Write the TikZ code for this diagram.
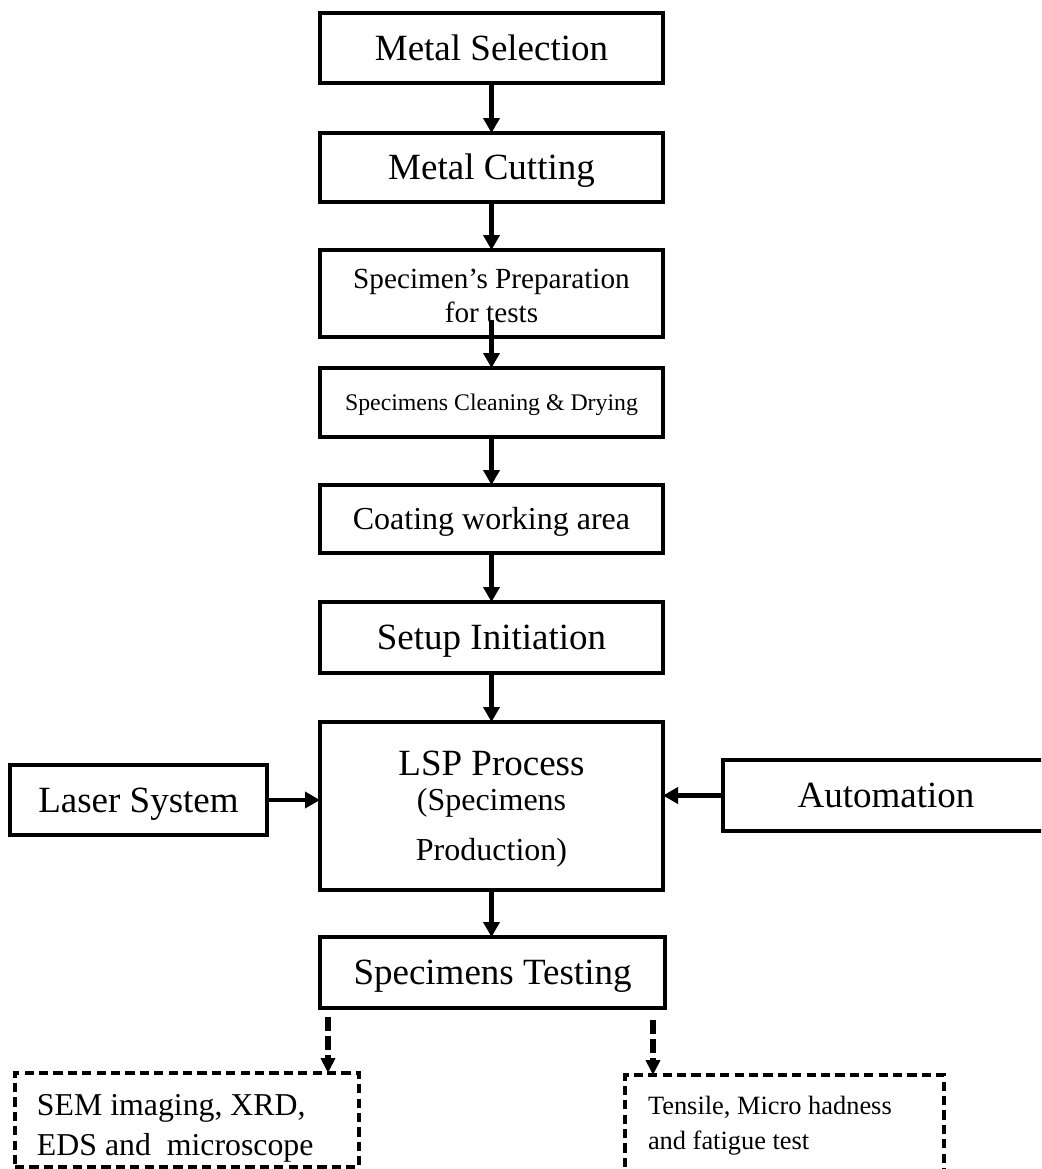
\documentclass[tikz,border=0pt]{standalone}
\usepackage{fontspec}
\setmainfont{Liberation Serif}
\usetikzlibrary{arrows.meta,calc}
\begin{document}
\begin{tikzpicture}[x=0.5pt,y=-0.5pt,
  box/.style={draw,line width=2pt,rectangle,inner sep=0pt,outer sep=0pt,align=center},
  dbox/.style={draw,line width=1.7pt,rectangle,inner sep=0pt,outer sep=0pt,
    dash pattern=on 4.6pt off 2.6pt},
  big/.style={font=\fontsize{18.5}{22}\selectfont,text height=12.2pt,text depth=0pt},
  mid/.style={font=\fontsize{16}{19}\selectfont,text height=10.6pt,text depth=0pt},
  prepf/.style={font=\fontsize{14.6}{17}\selectfont},
  small/.style={font=\fontsize{11.9}{14}\selectfont,text height=8pt,text depth=0pt},
  semf/.style={font=\fontsize{15.9}{20}\selectfont},
  tenf/.style={font=\fontsize{13.2}{17.5}\selectfont},
  txt/.style={inner sep=0pt,outer sep=0pt,text height=,text depth=},
  arr/.style={line width=2.3pt,-{Triangle[length=7.5pt,width=8pt]}},
  darr/.style={line width=2.6pt,dash pattern=on 7pt off 2.6pt,
    -{Triangle[length=7.5pt,width=7pt]}}
]
\clip (0,0) rectangle (1041,1169);

% main column
\node[box,big,minimum width=171.5pt,minimum height=35pt] (ms) at (491.5,48) {Metal Selection};
\node[box,big,minimum width=171.5pt,minimum height=34.5pt] (mc) at (491.5,167.5) {Metal Cutting};
\node[box,minimum width=171.5pt,minimum height=43.5pt] (prep) at (491.5,293.5) {};
\node[txt,prepf,anchor=base] (prep1) at (491.5,288) {Specimen’s Preparation};
\node[txt,prepf,anchor=base] (prep2) at (491.5,322) {for tests};
\node[box,small,minimum width=171.5pt,minimum height=34.5pt] (clean) at (491.5,402.5) {Specimens Cleaning \& Drying};
\node[box,mid,minimum width=171.5pt,minimum height=34pt] (coat) at (491.5,519) {Coating working area};
\node[box,big,minimum width=171.5pt,minimum height=35.5pt] (setup) at (491.5,637.5) {Setup Initiation};
\node[box,minimum width=171.5pt,minimum height=84pt] (lsp) at (491.5,806) {};
\node[txt,font=\fontsize{18.5}{22}\selectfont,anchor=base] (lsp1) at (491.5,775) {LSP Process};
\node[txt,font=\fontsize{16}{19}\selectfont,anchor=base] (lsp2) at (491.5,810) {(Specimens};
\node[txt,font=\fontsize{16}{19}\selectfont,anchor=base] (lsp3) at (491.5,860) {Production)};
\node[box,big,minimum width=172.5pt,minimum height=35.5pt] (test) at (492.5,972.5) {Specimens Testing};

% side boxes
\node[box,big,minimum width=128.5pt,minimum height=35pt] (laser) at (138.5,800) {Laser System};
\node[box,big,minimum width=163pt,minimum height=35.5pt] (auto) at (886,795.5) {Automation};

% result boxes
\node[dbox,minimum width=172pt,minimum height=47pt] (sem) at (187,1120) {};
\node[txt,semf,anchor=base west] (sem1) at (37,1115) {SEM imaging, XRD,};
\node[txt,semf,anchor=base west] (sem2) at (37,1155) {EDS and\ \ microscope};
\node[dbox,minimum width=159.5pt,minimum height=50pt] (ten) at (784.5,1125) {};
\node[txt,tenf,anchor=base west] (ten1) at (648,1114) {Tensile, Micro hadness};
\node[txt,tenf,anchor=base west] (ten2) at (648,1149) {and fatigue test};

% connectors
\coordinate (prepin) at ($(prep.south)+(0,-17)$);
\draw[arr] (ms.south) -- (mc.north);
\draw[arr] (mc.south) -- (prep.north);
\draw[arr] (prepin) -- (clean.north);
\draw[arr] (clean.south) -- (coat.north);
\draw[arr] (coat.south) -- (setup.north);
\draw[arr] (setup.south) -- (lsp.north);
\draw[arr] (lsp.south) -- (lsp.south |- test.north);
\draw[arr] (laser.east) -- (laser.east -| lsp.west);
\draw[arr] (auto.west) -- (auto.west -| lsp.east);

\coordinate (d1) at (328,1017);
\coordinate (d2) at (653,1020);
\draw[darr] (d1) -- (d1 |- sem.north);
\draw[darr] (d2) -- (d2 |- ten.north);
\end{tikzpicture}
\end{document}
